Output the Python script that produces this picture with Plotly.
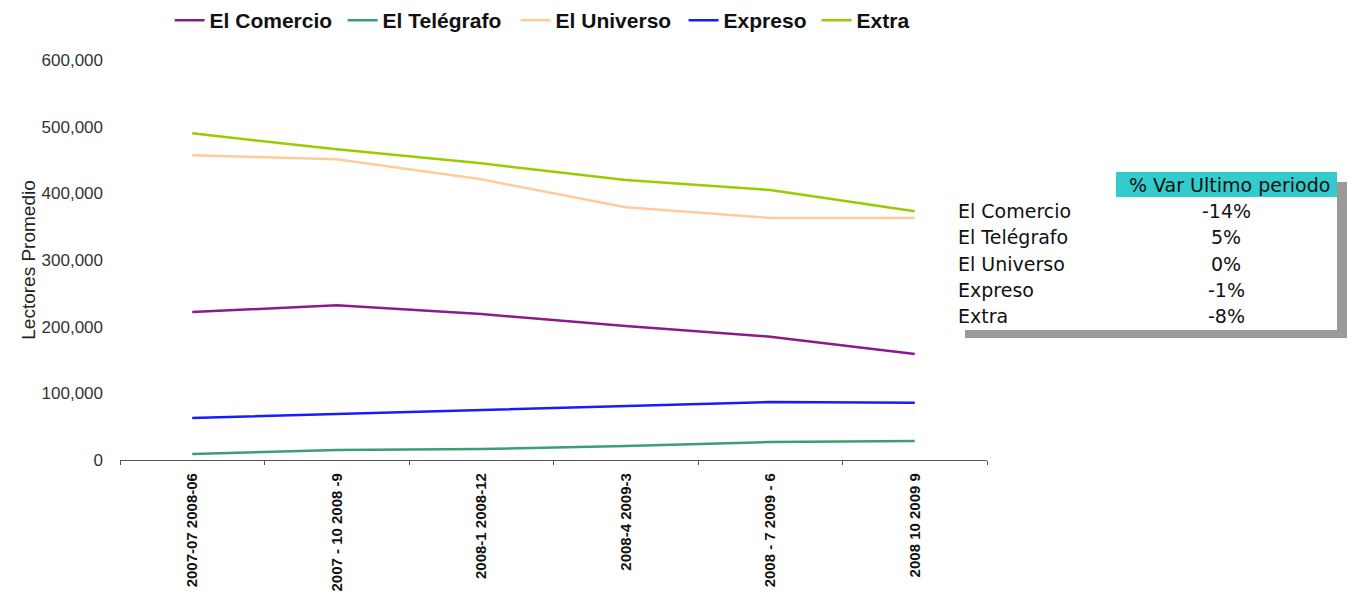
import plotly.graph_objects as go

periods = ["2007-07 2008-06", "2007 - 10 2008 -9", "2008-1 2008-12",
           "2008-4 2009-3", "2008 - 7 2009 - 6", "2008 10 2009 9"]

el_comercio = [222000, 232000, 219000, 201000, 185000, 159000]
el_telegrafo = [9000, 15000, 16500, 21000, 27000, 28500]
el_universo = [457000, 451000, 421000, 379000, 363000, 363000]
expreso = [63000, 69000, 76000, 81000, 87000, 86000]
extra = [490000, 466000, 445000, 420000, 405000, 373000]

series_names = ["El Comercio", "El Telégrafo", "El Universo", "Expreso", "Extra"]
series_colors = ["#8B1A8B", "#3C9E72", "#FFCC99", "#1A1AFF", "#99CC00"]
series_values = [el_comercio, el_telegrafo, el_universo, expreso, extra]

table_header = "% Var Ultimo periodo"
table_names = ["El Comercio", "El Telégrafo", "El Universo", "Expreso", "Extra"]
table_values = ["-14%", "5%", "0%", "-1%", "-8%"]

W, H = 1353, 594
L, R, T, B = 120, 987, 60, 460

def px(x):
    return (x - L) / (R - L)

def py(y):
    return (B - y) / (B - T)

# pixel x of the start of each legend entry text
legend_text_x = [210, 383, 556, 724, 857]

fig = go.Figure()
legend_ids = []
for i, (name, color, vals) in enumerate(zip(series_names, series_colors, series_values)):
    lid = "legend" if i == 0 else f"legend{i + 1}"
    legend_ids.append(lid)
    fig.add_trace(go.Scatter(x=periods, y=vals, mode="lines", name=name, legend=lid,
                             showlegend=True, line=dict(color=color, width=2.5)))

legend_style = dict(orientation="h", y=1.0, yref="container", xanchor="left", yanchor="top",
                    font=dict(family="Liberation Sans", size=21, color="#111111", weight="bold"),
                    itemwidth=30, bgcolor="rgba(0,0,0,0)", visible=True)
legends = {}
for lid, tx in zip(legend_ids, legend_text_x):
    legends[lid] = dict(legend_style, x=px(tx - 40.4))

shapes = [
    dict(type="rect", xref="paper", yref="paper", x0=px(965), x1=px(1347),
         y0=py(338), y1=py(182), fillcolor="#9a9a9a", line=dict(width=0), layer="above"),
    dict(type="rect", xref="paper", yref="paper", x0=px(955), x1=px(1337),
         y0=py(330), y1=py(172), fillcolor="white", line=dict(width=0), layer="above"),
    dict(type="rect", xref="paper", yref="paper", x0=px(1116), x1=px(1337),
         y0=py(197), y1=py(172), fillcolor="#33CCCC", line=dict(width=0), layer="above"),
]

tfont = dict(family="DejaVu Sans", size=19, color="#111111")
annotations = [dict(xref="paper", yref="paper", x=px(1229), y=py(185), text=table_header,
                    showarrow=False, xanchor="center", yanchor="middle", font=tfont)]
row_y = [211, 237, 264, 290, 316]
for ry, nm, v in zip(row_y, table_names, table_values):
    annotations.append(dict(xref="paper", yref="paper", x=px(956), y=py(ry), text=nm,
                            showarrow=False, xanchor="left", yanchor="middle", font=tfont))
    annotations.append(dict(xref="paper", yref="paper", x=px(1226), y=py(ry), text=v,
                            showarrow=False, xanchor="center", yanchor="middle", font=tfont))

fig.update_layout(
    width=W, height=H, showlegend=True,
    margin=dict(l=L, r=W - R, t=T, b=H - B, pad=0, autoexpand=False),
    plot_bgcolor="white", paper_bgcolor="white",
    shapes=shapes, annotations=annotations,
    xaxis=dict(type="category", range=[-0.5, 5.5], showgrid=False, showline=True, automargin=False,
               linecolor="#555555", linewidth=1.2, ticks="outside", tickson="boundaries",
               ticklen=4, tickcolor="#555555", tickangle=-90, ticklabelstandoff=6,
               tickfont=dict(family="Liberation Sans", size=15, color="#111111", weight="bold")),
    yaxis=dict(range=[0, 600000], dtick=100000, tickformat=",", showgrid=False, showline=False,
               zeroline=False, ticks="", ticklabelstandoff=16, automargin=False,
               tickfont=dict(family="Liberation Sans", size=17, color="#333333"),
               title=dict(text="Lectores Promedio", standoff=0,
                          font=dict(family="Liberation Sans", size=19, color="#222222"))),
    **legends,
)

fig.write_html("out.html")
